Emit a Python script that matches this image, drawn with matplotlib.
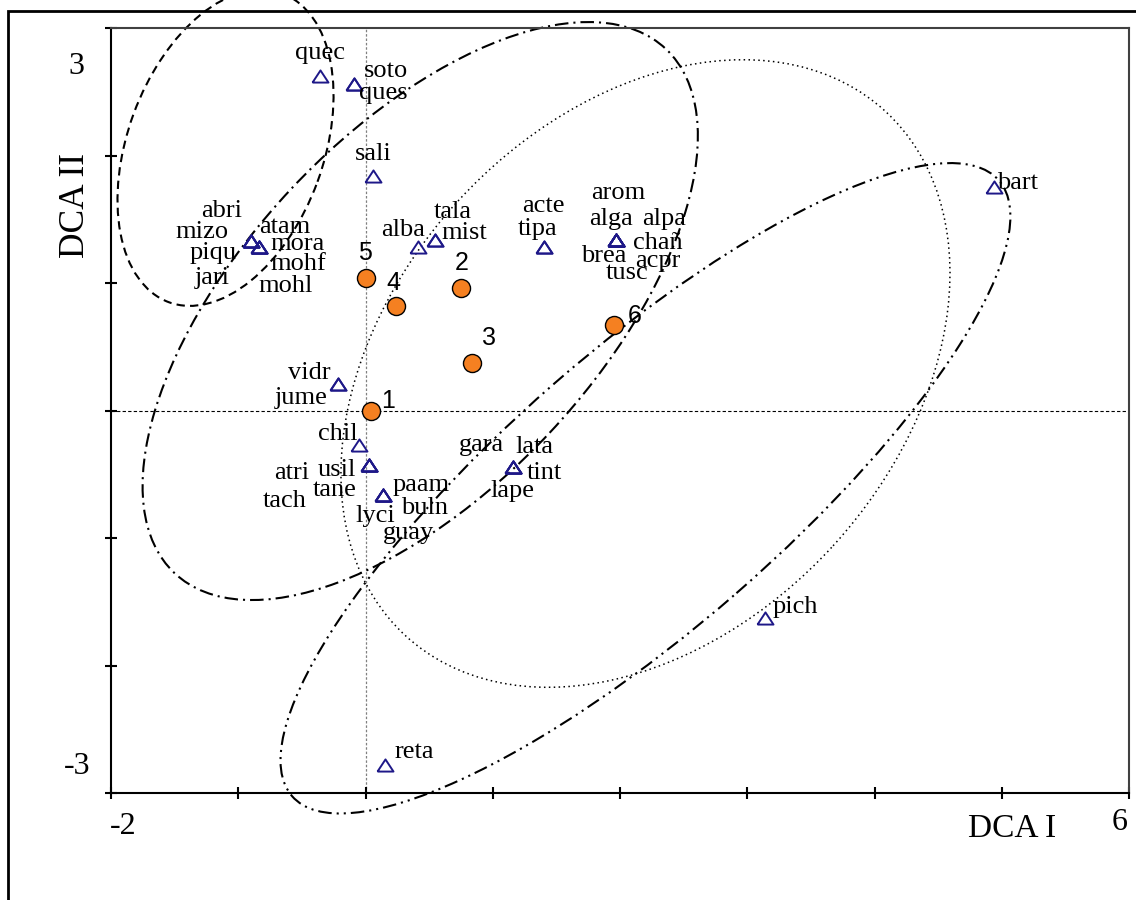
import matplotlib
matplotlib.use("Agg")
import matplotlib.pyplot as plt
from matplotlib.patches import Ellipse, Rectangle

# ---- site scores (DCA axes I and II) ----
site_labels = ["1", "2", "3", "4", "5", "6"]
site_x = [0.04, 0.75, 0.84, 0.24, 0.00, 1.95]
site_y = [0.00, 0.96, 0.37, 0.82, 1.04, 0.67]

# ---- species scores ----
species = ["quec", "soto", "ques", "sali",
           "abri", "mizo", "piqu", "jari",
           "atam", "mora", "mohf", "mohl",
           "alba", "tala", "mist", "acte", "tipa",
           "arom", "alga", "alpa", "chañ", "brea", "acpr", "tusc",
           "bart", "vidr", "jume", "chil",
           "atri", "usil", "tane", "tach",
           "paam", "buln", "lyci", "guay",
           "gara", "lata", "tint", "lape",
           "pich", "reta"]
species_x = [-0.36, -0.09, -0.09, 0.06,
             -0.90, -0.90, -0.90, -0.90,
             -0.84, -0.84, -0.84, -0.84,
             0.41, 0.55, 0.55, 1.40, 1.40,
             1.97, 1.97, 1.97, 1.97, 1.97, 1.97, 1.97,
             4.94, -0.22, -0.22, -0.05,
             0.03, 0.03, 0.03, 0.03,
             0.14, 0.14, 0.14, 0.14,
             1.16, 1.16, 1.16, 1.16,
             3.14, 0.15]
species_y = [2.62, 2.56, 2.56, 1.84,
             1.33, 1.33, 1.33, 1.33,
             1.28, 1.28, 1.28, 1.28,
             1.28, 1.34, 1.34, 1.28, 1.28,
             1.34, 1.34, 1.34, 1.34, 1.34, 1.34, 1.34,
             1.75, 0.21, 0.21, -0.27,
             -0.43, -0.43, -0.43, -0.43,
             -0.66, -0.66, -0.66, -0.66,
             -0.44, -0.44, -0.44, -0.44,
             -1.63, -2.78]

# ---- group ellipses: centre, full axes lengths, rotation (deg) ----
ell_cx = [-1.10, 0.43, 2.20, 2.20]
ell_cy = [2.06, 0.78, 0.29, -0.61]
ell_w = [2.58, 5.64, 5.58, 7.36]
ell_h = [1.54, 2.79, 4.00, 2.18]
ell_angle = [69.8, 46.8, 47.5, 41.0]

# ---- styling / label placement ----
ell_styles = [(0, (4, 2.5)),
              (0, (6.5, 2.4, 1, 2.4)),
              (0, (1, 2.2)),
              (0, (6.5, 2.4, 1, 2.4, 1, 2.4))]
ell_lw = [1.5, 1.5, 1.1, 1.5]

# label offsets in pixels (dx right, dy up) and horizontal alignment
species_offsets = {
    "quec": (0, 23, "center"), "soto": (10, 13, "left"), "ques": (5, -9, "left"),
    "sali": (0, 22, "center"),
    "abri": (-9, 30, "right"), "mizo": (-22, 9, "right"),
    "piqu": (-14, -12, "right"), "jari": (-21, -37, "right"),
    "atam": (1, 20, "left"), "mora": (12, 3, "left"),
    "mohf": (12, -17, "left"), "mohl": (0, -39, "left"),
    "alba": (-15, 17, "center"), "tala": (17, 28, "center"), "mist": (29, 7, "center"),
    "acte": (0, 41, "center"), "tipa": (-6, 18, "center"),
    "arom": (2, 47, "center"), "alga": (-5, 21, "center"), "alpa": (48, 21, "center"),
    "chañ": (42, -3, "center"), "brea": (-12, -16, "center"),
    "acpr": (42, -21, "center"), "tusc": (11, -33, "center"),
    "bart": (3, 4, "left"), "vidr": (-7, 11, "right"), "jume": (-10, -14, "right"),
    "chil": (-2, 11, "right"),
    "atri": (-78, -8, "center"), "usil": (-32, -5, "center"),
    "tane": (-35, -25, "center"), "tach": (-85, -36, "center"),
    "paam": (38, 10, "center"), "buln": (41, -13, "center"),
    "lyci": (-8, -21, "center"), "guay": (25, -38, "center"),
    "gara": (-32, 22, "center"), "lata": (21, 20, "center"),
    "tint": (31, -6, "center"), "lape": (-1, -24, "center"),
    "pich": (7, 11, "left"), "reta": (10, 13, "left"),
}
site_offsets = [(17, 9), (1, 25), (17, 25), (-3, 23), (-1, 25), (21, 9)]

PX = 72.0 / 100.0  # pixels -> points at 100 dpi
SERIF = ["Liberation Serif", "DejaVu Serif"]
SANS = ["Liberation Sans", "DejaVu Sans"]

fig = plt.figure(figsize=(11.36, 9.0), dpi=100)
ax = fig.add_axes([111 / 1136, 107 / 900, 1018 / 1136, 765 / 900])
ax.set_xlim(-2, 6)
ax.set_ylim(-3, 3)

# outer frame
fig.add_artist(Rectangle((8 / 1136, -0.05), 1.2, 1 - 11 / 900 + 0.05,
                         transform=fig.transFigure, fill=False,
                         edgecolor="black", linewidth=2.0))

# spines and ticks
for side in ["left", "bottom"]:
    ax.spines[side].set_linewidth(1.5)
    ax.spines[side].set_color("black")
for side in ["top", "right"]:
    ax.spines[side].set_linewidth(1.5)
    ax.spines[side].set_color("#404040")
ax.set_xticks(range(-2, 7))
ax.set_yticks(range(-3, 4))
ax.tick_params(direction="inout", length=8, width=1.5, labelleft=False,
               labelbottom=False, colors="black")

# zero lines
ax.axhline(0, color="black", lw=0.8, ls=(0, (3, 2)), zorder=1)
ax.axvline(0, color="#808080", lw=0.9, ls=(0, (2, 1.5)), zorder=1)

# ellipses
for cx, cy, w, h, ang, ls, lw in zip(ell_cx, ell_cy, ell_w, ell_h, ell_angle,
                                     ell_styles, ell_lw):
    e = Ellipse((cx, cy), w, h, angle=ang, fill=False, edgecolor="black",
                linestyle=ls, linewidth=lw, clip_on=False, zorder=2)
    ax.add_patch(e)

# species triangles
tri = [(-1, -0.76), (1, -0.76), (0, 0.76), (-1, -0.76)]
ax.plot(species_x, species_y, linestyle="none", marker=tri, markersize=11.5,
        markerfacecolor="none", markeredgecolor="#1e1888", markeredgewidth=1.4,
        zorder=4)
for name, x, y in zip(species, species_x, species_y):
    dx, dy, ha = species_offsets[name]
    ax.annotate(name, (x, y), xytext=(dx * PX, dy * PX), textcoords="offset points",
                ha=ha, va="center", fontsize=19, family=SERIF, color="black",
                zorder=5)

# site circles
ax.plot(site_x, site_y, linestyle="none", marker="o", markersize=13,
        markerfacecolor="#f58021", markeredgecolor="black", markeredgewidth=1.0,
        zorder=6)
for lab, x, y, (dx, dy) in zip(site_labels, site_x, site_y, site_offsets):
    ax.annotate(lab, (x, y), xytext=(dx * PX, dy * PX), textcoords="offset points",
                ha="center", va="center", fontsize=18, family=SANS, color="black",
                zorder=7)

# axis range labels and titles
fig.text(76 / 1136, 1 - 66 / 900, "3", ha="center", va="center", fontsize=23, family=SERIF)
fig.text(77 / 1136, 1 - 767 / 900, "-3", ha="center", va="center", fontsize=23, family=SERIF)
fig.text(123 / 1136, 1 - 826 / 900, "-2", ha="center", va="center", fontsize=23, family=SERIF)
fig.text(1120 / 1136, 1 - 823 / 900, "6", ha="center", va="center", fontsize=23, family=SERIF)
fig.text(1012 / 1136, 1 - 829 / 900, "DCA I", ha="center", va="center", fontsize=24, family=SERIF)
fig.text(75 / 1136, 1 - 206 / 900, "DCA II", ha="center", va="center", fontsize=25.5,
         family=SERIF, rotation=90)

fig.savefig("out.png", dpi=100)
